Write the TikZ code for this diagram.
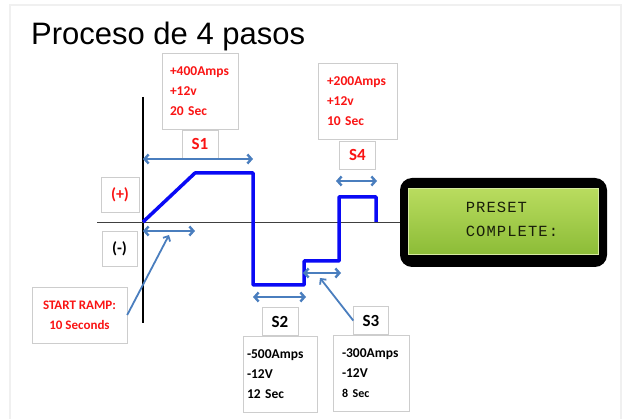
\documentclass[tikz,border=0pt]{standalone}
\usepackage{fontspec}
\setmainfont{Carlito}
\newfontfamily\titlefont{Liberation Sans}
\newfontfamily\lcdfont[LetterSpace=7]{Liberation Mono}
\usetikzlibrary{positioning,arrows.meta}
\definecolor{wave}{RGB}{10,10,245}
\definecolor{span}{RGB}{74,126,190}
\definecolor{boxline}{RGB}{205,205,205}
\definecolor{redtext}{RGB}{250,20,20}
\definecolor{lcdtop}{RGB}{185,220,95}
\definecolor{lcdbottom}{RGB}{140,188,55}
\definecolor{lcdtext}{RGB}{25,30,10}

\begin{document}
\begin{tikzpicture}[x=1pt,y=-1pt,
  infobox/.style = {draw=boxline, fill=white, minimum height=76pt, inner xsep=0pt,
    align=left, font=\bfseries\fontsize{13.5}{20}\selectfont},
  stepbox/.style = {draw=boxline, fill=white, minimum width=36pt, minimum height=28pt,
    inner sep=0pt, font=\bfseries\fontsize{17}{18}\selectfont},
  signbox/.style = {draw=boxline, fill=white, minimum width=38pt, minimum height=35pt,
    inner sep=0pt, font=\bfseries\fontsize{16}{16}\selectfont},
  spanarrow/.style = {draw=span, line width=2.4pt, {Straight Barb[length=4pt,width=9pt]}-{Straight Barb[length=4pt,width=9pt]}},
  pointer/.style = {draw=span, line width=1.8pt, -{Straight Barb[length=4pt,width=8pt]}}]

  % page frame and size
  \useasboundingbox (0,0) rectangle (627,419);
  \draw[gray!12, line width=2pt] (10,430) -- (10,5) -- (621,5) -- (621,430);

  \node[font=\titlefont\fontsize{31}{31}\selectfont, anchor=base west, inner sep=0pt] (title) at (31,45) {Proceso de 4 pasos};

  % axes
  \coordinate (ytop) at (143,97);
  \coordinate (ybot) at (143,323);
  \coordinate (xleft) at (97,222.5);
  \draw[black, line width=1.6pt] (ytop) -- (ybot);

  % display
  \node[fill=black, rounded corners=12pt, minimum width=207pt, minimum height=89pt] (lcd) at (503.5,222.5) {};
  \node[top color=lcdtop, bottom color=lcdbottom, draw=lcdtop!60!white, line width=1pt,
    minimum width=190pt, minimum height=66pt] (screen) at (503.5,221.5) {};
  \node[align=left, text=lcdtext, inner sep=0pt, font=\lcdfont\fontsize{15.5}{23.5}\selectfont]
    (msg) at (512,219.5) {PRESET\\COMPLETE:};
  \draw[black!75, line width=1.6pt] (xleft) -- (lcd.west);

  % waveform
  \draw[wave, line width=3.5pt, line join=round] (143,222) -- (195,173) -- (253,173) -- (253,285)
    -- (304,285) -- (304,261) -- (339,261) -- (339,197) -- (376,197) -- (376,222);

  % step 1
  \node[infobox, minimum width=76pt, text width=60pt, text=redtext] (s1info) at (200,91.5)
    {+400Amps\\+12v\\20 Sec};
  \node[stepbox, text=redtext, below=0pt of s1info] (s1) {S1};
  \coordinate (s1a) at (143,159);
  \coordinate (s1b) at (253,159);
  \draw[spanarrow] (s1a) -- (s1b);

  % step 4
  \node[infobox, minimum width=79pt, text width=61pt, text=redtext] (s4info) at (357.5,101)
    {+200Amps\\+12v\\10 Sec};
  \node[stepbox, text=redtext, below=2pt of s4info] (s4) {S4};
  \coordinate (s4a) at (336,181);
  \coordinate (s4b) at (377,181);
  \draw[spanarrow] (s4a) -- (s4b);

  % signs
  \node[signbox, text=redtext] (plus) at (120,195) {(+)};
  \node[signbox, minimum width=35pt] (minus) at (119.5,249) {(-)};

  % start ramp
  \node[draw=boxline, fill=white, minimum width=95pt, minimum height=56pt, align=center,
    text=redtext, font=\bfseries\fontsize{13}{20}\selectfont] (ramp) at (79.5,315)
    {START RAMP:\\10 Seconds};
  \coordinate (r0a) at (143,231);
  \coordinate (r0b) at (195,231);
  \coordinate (r0p) at (169,235);
  \draw[spanarrow] (r0a) -- (r0b);
  \draw[pointer] (ramp.east) -- (r0p);

  % step 2
  \node[infobox, minimum width=74pt, text width=66pt] (s2info) at (280,374)
    {-500Amps\\-12V\\12 Sec};
  \node[stepbox, above=0pt of s2info] (s2) {S2};
  \coordinate (s2a) at (253,297);
  \coordinate (s2b) at (306,297);
  \draw[spanarrow] (s2a) -- (s2b);

  % step 3
  \node[infobox, minimum width=76pt, text width=58pt] (s3info) at (371,373)
    {-300Amps\\-12V\\{\fontsize{12}{20}\selectfont 8 Sec}};
  \node[stepbox, minimum width=35pt, above=0pt of s3info] (s3) {S3};
  \coordinate (s3a) at (303,273);
  \coordinate (s3b) at (341,273);
  \coordinate (s3p) at (320,278);
  \draw[spanarrow] (s3a) -- (s3b);
  \draw[pointer] (s3.west) -- (s3p);
\end{tikzpicture}
\end{document}
